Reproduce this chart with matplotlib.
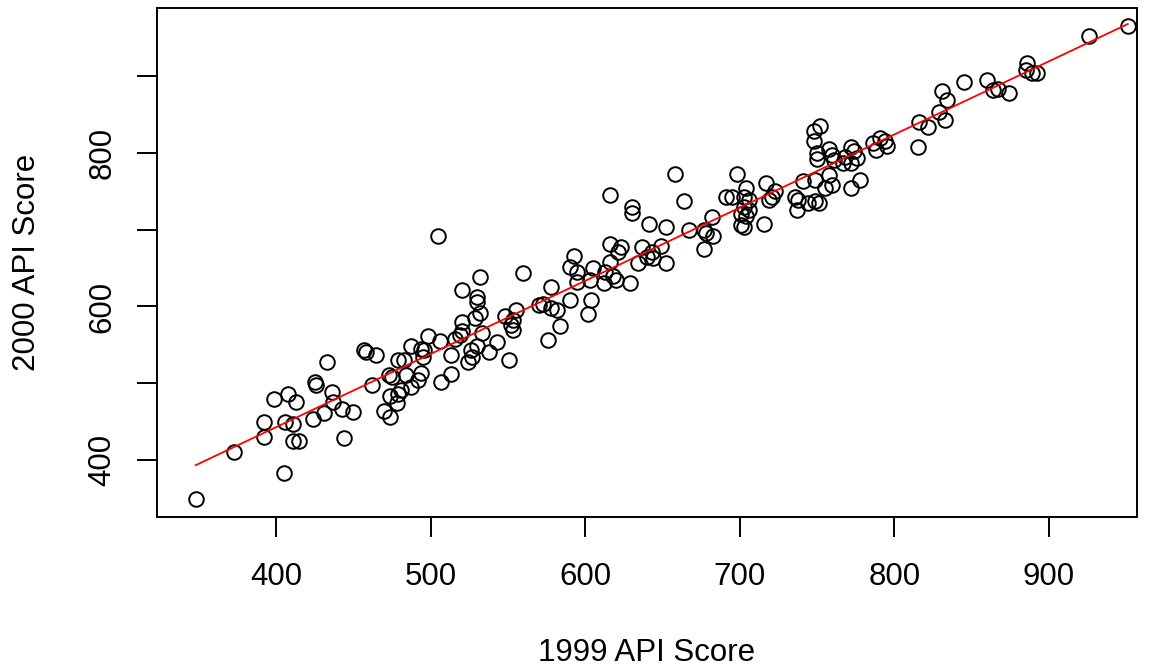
import numpy as np
from matplotlib import pyplot as plt

plt.rcParams['font.family'] = ['Liberation Sans', 'DejaVu Sans']

# 1999 vs 2000 API scores
api99 = [348, 373, 405, 392, 392, 399, 408, 413, 406, 411, 411, 415, 425, 426, 433,
         436, 437, 424, 431, 443, 450, 444, 458, 457, 462,
         505, 532, 560, 520, 530, 530, 532, 529, 520, 548, 555, 553, 553, 552, 520,
         533, 543, 538, 526, 524, 527, 530, 551, 516, 519, 513, 506, 498, 494, 496,
         487, 495, 479, 483, 465, 473, 475, 484, 494, 492, 487, 481, 479, 474, 478,
         470, 474, 507, 513,
         658, 616, 664, 630, 630, 641, 652, 667, 616, 623, 621, 616, 637, 643, 644,
         649, 640, 634, 652, 593, 590, 595, 605, 613, 618, 620, 612, 629, 603, 595,
         578, 590, 604, 602, 570, 573, 578, 582, 584, 576,
         698, 752, 748, 748, 750, 750, 758, 760, 761, 768, 772, 774, 772, 776, 758,
         760, 755, 772, 749, 741, 717, 723, 721, 719, 704, 703, 706, 691, 695, 703,
         706, 701, 704, 701, 703, 716, 736, 738, 737, 744, 749, 751, 682, 677, 678,
         683, 677, 778,
         886, 885, 889, 892, 845, 860, 864, 867, 874, 831, 834, 829, 833, 816, 822,
         815, 786, 791, 794, 795, 788, 767,
         951, 926]
api00 = [349, 411, 383, 449, 430, 480, 486, 475, 449, 447, 425, 425, 501, 498, 528,
         489, 475, 453, 461, 467, 463, 429, 541, 543, 498,
         692, 639, 643, 622, 612, 606, 591, 585, 580, 588, 595, 582, 570, 576, 568,
         565, 554, 541, 543, 528, 534, 548, 530, 558, 563, 537, 555, 561, 545, 543,
         548, 534, 530, 530, 537, 511, 508, 511, 513, 504, 495, 491, 486, 483, 474,
         464, 456, 502, 512,
         773, 745, 738, 730, 722, 708, 704, 700, 682, 677, 671, 658, 677, 671, 663,
         679, 664, 657, 657, 666, 652, 645, 650, 645, 640, 635, 630, 630, 634, 632,
         626, 608, 608, 590, 602, 603, 598, 595, 574, 556,
         773, 835, 828, 815, 800, 792, 805, 797, 791, 795, 808, 802, 787, 793, 771,
         758, 754, 755, 765, 763, 761, 750, 743, 739, 754, 743, 739, 742, 742, 730,
         726, 721, 718, 706, 704, 708, 743, 739, 726, 735, 737, 735, 716, 700, 696,
         692, 675, 765,
         917, 908, 904, 904, 893, 895, 882, 884, 878, 881, 869, 854, 843, 841, 834,
         808, 813, 819, 815, 809, 804, 787,
         965, 952]

x_ticks = [400, 500, 600, 700, 800, 900]
y_ticks = [400, 500, 600, 700, 800, 900]
y_labels = ['400', '', '600', '', '800', '']

x = np.array(api99)
y = np.array(api00)
slope, intercept = np.polyfit(x, y, 1)
xs = np.array([x.min(), x.max()])

fig = plt.figure(figsize=(11.59, 6.68), dpi=100)
ax = fig.add_axes([157 / 1159, 1 - 517 / 668, 980 / 1159, 509 / 668])

ax.plot(x, y, 'o', markerfacecolor='none', markeredgecolor='black',
        markersize=10.5, markeredgewidth=1.4)
ax.plot(xs, intercept + slope * xs, color='red', lw=1.3)

ax.set_xlim(323, 957)
ax.set_ylim(325.7, 988.9)
ax.set_xticks(x_ticks)
ax.set_yticks(y_ticks)
ax.set_yticklabels(y_labels, rotation=90, va='center')

for s in ax.spines.values():
    s.set_linewidth(1.4)
ax.tick_params(axis='both', length=14.4, width=1.4, labelsize=22.5, direction='out')
ax.tick_params(axis='x', pad=18)
ax.tick_params(axis='y', pad=14)

ax.set_xlabel('1999 API Score', fontsize=22.5, labelpad=33)
ax.set_ylabel('2000 API Score', fontsize=22.5, labelpad=33)

plt.savefig('out.png', dpi=100)
